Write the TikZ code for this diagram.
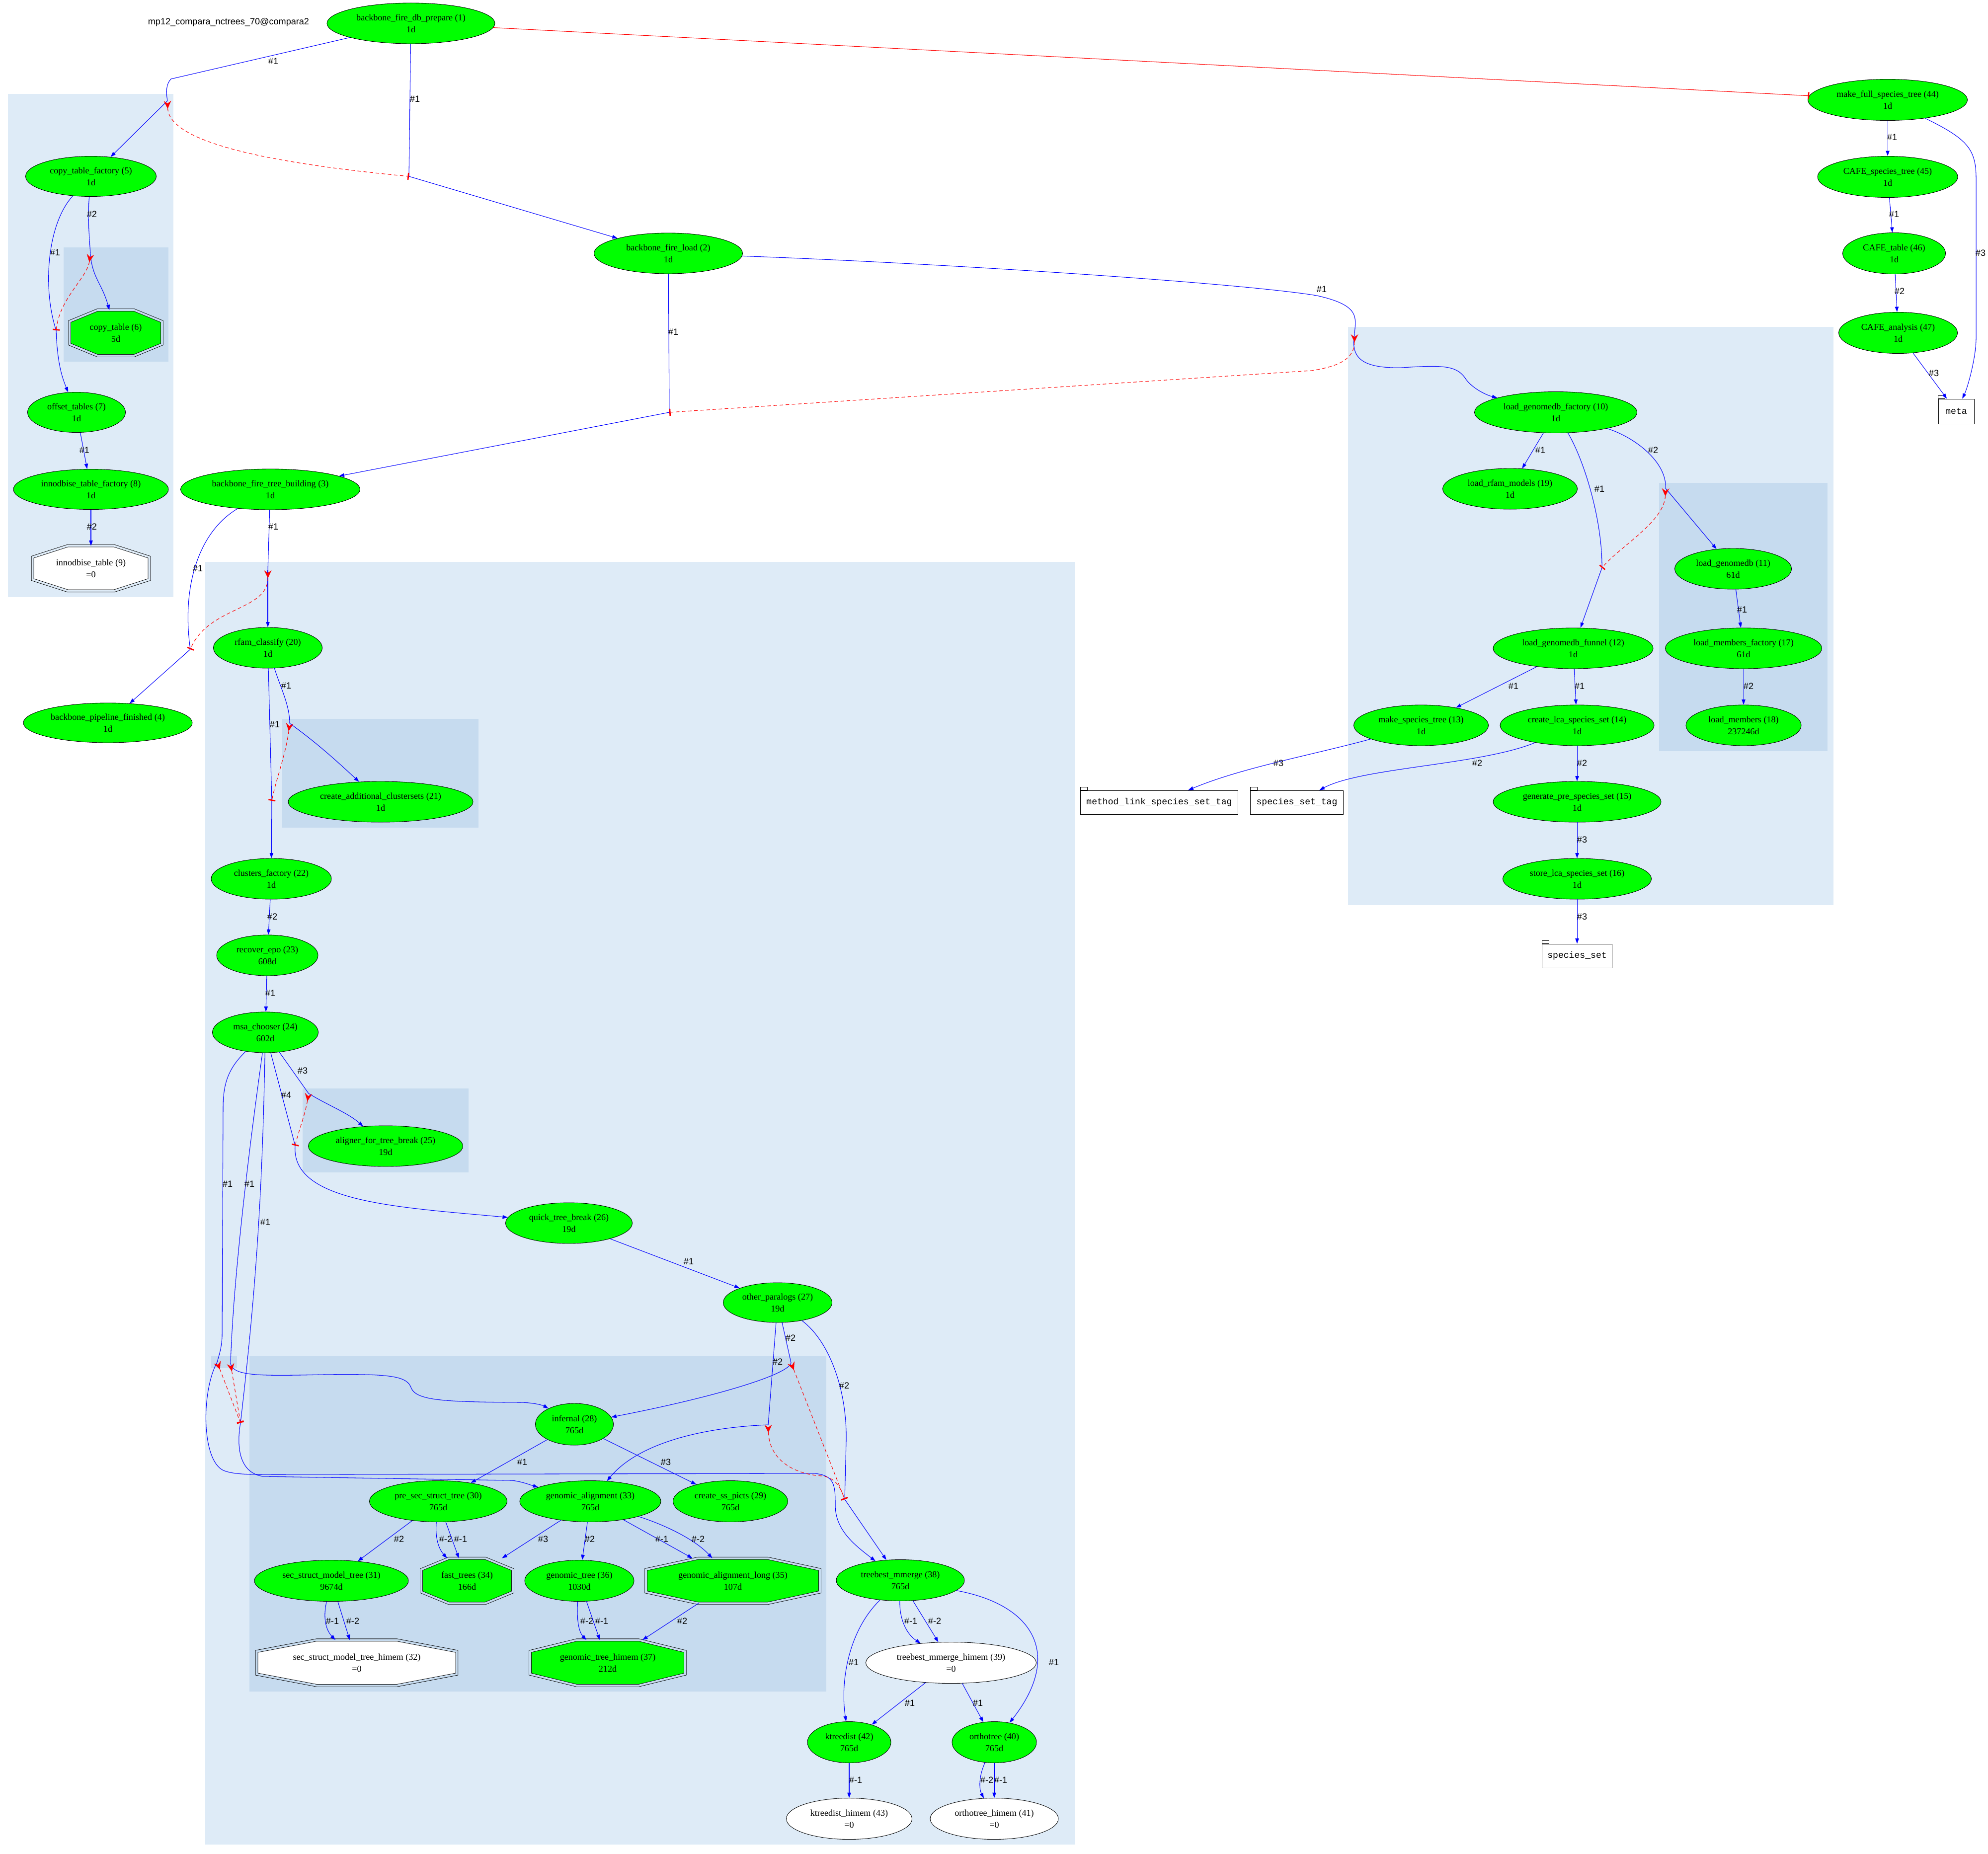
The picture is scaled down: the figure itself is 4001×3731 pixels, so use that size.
\documentclass[tikz,border=0pt]{standalone}
\usepackage{fontspec}
\setmainfont{Liberation Serif}
\setsansfont{Liberation Sans}
\setmonofont{Liberation Mono}
\usepackage{tikz}
\usetikzlibrary{arrows.meta}
\usetikzlibrary{shapes.geometric}
\usetikzlibrary{calc}
\definecolor{cluA}{HTML}{DEEBF7}
\definecolor{cluB}{HTML}{C6DBEF}
\definecolor{jobgreen}{HTML}{00FF00}
\pgfdeclarelayer{back}
\pgfsetlayers{back,main}
\tikzset{
    job/.style={
           ellipse,
           draw=black, line width=0.5pt,
           fill=jobgreen,
           inner sep=0pt,
           align=center,
           font=\fontsize{10.3}{13.5}\selectfont,
           },
    octo/.style={
           rectangle,
           inner sep=0pt,
           align=center,
           font=\fontsize{10.3}{13.5}\selectfont,
           },
    octline/.style={
           draw=black, line width=0.5pt,
           double=#1, double distance=2.2pt,
           },
    octline/.default=cluB,
    tbl/.style={
           rectangle,
           draw=black, line width=0.5pt,
           fill=white,
           inner sep=0pt,
           font=\ttfamily\fontsize{10.3}{12}\selectfont,
           },
    sz/.style 2 args={minimum width=#1*0.02cm, minimum height=#2*0.02cm},
    lbl/.style={text=black, font=\sffamily\fontsize{10.3}{12}\selectfont, inner sep=0pt},
    flow/.style={blue, line width=0.6pt},
    go/.style={flow, -{Triangle[length=6pt, width=4.2pt]}},
    sema/.style={red, line width=0.6pt, dash pattern=on 4pt off 3pt,
           {Stealth[reversed, length=9pt, width=8.5pt, inset=3pt]}-{Bar[width=8pt, line width=1.5pt]}},
    redtee/.style={red, line width=0.6pt, -{Bar[width=8pt, line width=1.5pt]}},
}
% octagon round a node of shape octo
\newcommand\octpath[1]{($(#1.north west)!0.3!(#1.north east)$) -- ($(#1.north west)!0.7!(#1.north east)$)
	-- ($(#1.north east)!0.25!(#1.south east)$) -- ($(#1.north east)!0.75!(#1.south east)$)
	-- ($(#1.south west)!0.7!(#1.south east)$) -- ($(#1.south west)!0.3!(#1.south east)$)
	-- ($(#1.north west)!0.75!(#1.south west)$) -- ($(#1.north west)!0.25!(#1.south west)$) -- cycle}

\begin{document}
\begin{tikzpicture}[x=0.02cm, y=-0.02cm]
	\useasboundingbox (0,0) rectangle (4001,3731);
	
	%clusters
	\begin{pgfonlayer}{back}
	\fill[cluA] (16,189) rectangle (349,1202);
	\fill[cluB] (128,498) rectangle (339,728);
	\fill[cluA] (413,1131) rectangle (2164,3713);
	\fill[cluB] (568,1447) rectangle (963,1666);
	\fill[cluB] (609,2191) rectangle (943,2360);
	\fill[cluB] (502,2730) rectangle (1663,3405);
	\fill[cluB] (425,2730) rectangle (477,2754);
	\fill[cluA] (2713,658) rectangle (3690,1822);
	\fill[cluB] (3339,972) rectangle (3678,1512);
	\end{pgfonlayer}
	
	\node[lbl] (head) at (460,45) {mp12\_compara\_nctrees\_70@compara2};
	
	%backbone
	\node[job, sz={338}{82}] (j1) at (827,47) {backbone\_fire\_db\_prepare (1)\\1d};
	\node[job, sz={299}{82}] (j2) at (1345,510) {backbone\_fire\_load (2)\\1d};
	\node[job, sz={361}{82}] (j3) at (544,985) {backbone\_fire\_tree\_building (3)\\1d};
	\node[job, sz={340}{80}] (j4) at (217,1455) {backbone\_pipeline\_finished (4)\\1d};
	
	%copy tables
	\node[job, sz={263}{81}] (j5) at (183,355) {copy\_table\_factory (5)\\1d};
	\node[octo, sz={185}{91}] (j6) at (233,670) {copy\_table (6)\\5d};
	\node[job, sz={197}{81}] (j7) at (154,830) {offset\_tables (7)\\1d};
	\node[job, sz={312}{81}] (j8) at (183,985) {innodbise\_table\_factory (8)\\1d};
	\node[octo, sz={234}{90}] (j9) at (183,1144) {innodbise\_table (9)\\=0};
	
	%genomedb
	\node[job, sz={327}{83}] (j10) at (3131,830) {load\_genomedb\_factory (10)\\1d};
	\node[job, sz={235}{82}] (j11) at (3488,1145) {load\_genomedb (11)\\61d};
	\node[job, sz={322}{82}] (j12) at (3166,1305) {load\_genomedb\_funnel (12)\\1d};
	\node[job, sz={271}{82}] (j13) at (2860,1460) {make\_species\_tree (13)\\1d};
	\node[job, sz={310}{82}] (j14) at (3174,1460) {create\_lca\_species\_set (14)\\1d};
	\node[job, sz={338}{82}] (j15) at (3174,1614) {generate\_pre\_species\_set (15)\\1d};
	\node[job, sz={299}{82}] (j16) at (3174,1769) {store\_lca\_species\_set (16)\\1d};
	\node[job, sz={315}{82}] (j17) at (3509,1305) {load\_members\_factory (17)\\61d};
	\node[job, sz={232}{82}] (j18) at (3509,1460) {load\_members (18)\\237246d};
	\node[job, sz={271}{82}] (j19) at (3039,984) {load\_rfam\_models (19)\\1d};
	
	%tree building
	\node[job, sz={219}{82}] (j20) at (539,1304) {rfam\_classify (20)\\1d};
	\node[job, sz={372}{82}] (j21) at (766,1614) {create\_additional\_clustersets (21)\\1d};
	\node[job, sz={242}{82}] (j22) at (546,1769) {clusters\_factory (22)\\1d};
	\node[job, sz={204}{82}] (j23) at (538,1923) {recover\_epo (23)\\608d};
	\node[job, sz={213}{82}] (j24) at (534,2078) {msa\_chooser (24)\\602d};
	\node[job, sz={311}{82}] (j25) at (776,2307) {aligner\_for\_tree\_break (25)\\19d};
	\node[job, sz={255}{82}] (j26) at (1145,2462) {quick\_tree\_break (26)\\19d};
	\node[job, sz={219}{80}] (j27) at (1565,2622) {other\_paralogs (27)\\19d};
	\node[job, sz={157}{84}] (j28) at (1156,2867) {infernal (28)\\765d};
	\node[job, sz={231}{83}] (j29) at (1470,3022) {create\_ss\_picts (29)\\765d};
	\node[job, sz={277}{83}] (j30) at (882,3022) {pre\_sec\_struct\_tree (30)\\765d};
	\node[job, sz={310}{83}] (j31) at (667,3182) {sec\_struct\_model\_tree (31)\\9674d};
	\node[octo, sz={402}{91}] (j32) at (718,3347) {sec\_struct\_model\_tree\_himem (32)\\=0};
	\node[job, sz={284}{83}] (j33) at (1188,3022) {genomic\_alignment (33)\\765d};
	\node[octo, sz={183}{90}] (j34) at (940,3182) {fast\_trees (34)\\166d};
	\node[octo, sz={349}{90}] (j35) at (1475,3182) {genomic\_alignment\_long (35)\\107d};
	\node[job, sz={220}{83}] (j36) at (1166,3182) {genomic\_tree (36)\\1030d};
	\node[octo, sz={311}{91}] (j37) at (1223,3347) {genomic\_tree\_himem (37)\\212d};
	\node[job, sz={258}{83}] (j38) at (1812,3181) {treebest\_mmerge (38)\\765d};
	\node[job, fill=white, sz={343}{83}] (j39) at (1914,3347) {treebest\_mmerge\_himem (39)\\=0};
	\node[job, sz={170}{83}] (j40) at (2001,3507) {orthotree (40)\\765d};
	\node[job, fill=white, sz={258}{83}] (j41) at (2001,3661) {orthotree\_himem (41)\\=0};
	\node[job, sz={168}{83}] (j42) at (1709,3507) {ktreedist (42)\\765d};
	\node[job, fill=white, sz={253}{83}] (j43) at (1709,3661) {ktreedist\_himem (43)\\=0};
	
	\begin{pgfonlayer}{back}
	\foreach \o/\f/\g in {j6/jobgreen/cluB, j9/white/cluA, j32/white/cluB,
			j34/jobgreen/cluB, j35/jobgreen/cluB, j37/jobgreen/cluB}
		\draw[octline=\g, fill=\f] \octpath{\o};
	\end{pgfonlayer}
	
	%species tree column
	\node[job, sz={321}{83}] (j44) at (3799,201) {make\_full\_species\_tree (44)\\1d};
	\node[job, sz={282}{83}] (j45) at (3799,356) {CAFE\_species\_tree (45)\\1d};
	\node[job, sz={207}{83}] (j46) at (3812,510) {CAFE\_table (46)\\1d};
	\node[job, sz={239}{83}] (j47) at (3820,670) {CAFE\_analysis (47)\\1d};
	
	%tables
	\node[tbl, sz={72}{50}] (tmeta) at (3937,828) {meta};
	\node[tbl, sz={317}{48}] (tmlss) at (2333,1615) {method\_link\_species\_set\_tag};
	\node[tbl, sz={187}{48}] (tsstag) at (2610,1615) {species\_set\_tag};
	\node[tbl, sz={141}{48}] (tss) at (3174,1924) {species\_set};
	\foreach \t in {tmeta,tmlss,tsstag,tss}
		\draw[line width=0.5pt, fill=white] (\t.north west) rectangle ++(14,-6);
	
	%fan and funnel points
	\coordinate (fanA) at (337,203);   \coordinate (teeA) at (823,355);
	\coordinate (fanB) at (182,512);   \coordinate (teeB) at (113,665);
	\coordinate (fanC) at (2726,673);  \coordinate (teeC) at (1347,830);
	\coordinate (fanD) at (539,1148);  \coordinate (teeD) at (383,1307);
	\coordinate (fanE) at (583,1456);  \coordinate (teeE) at (547,1612);
	\coordinate (fanF) at (621,2201);  \coordinate (teeF) at (594,2306);
	\coordinate (fanG) at (437,2742);  \coordinate (fanH) at (464,2745);
	\coordinate (teeG) at (484,2864);
	\coordinate (fanI) at (1546,2868); \coordinate (fanJ) at (1592,2743);
	\coordinate (teeK) at (1700,3018);
	\coordinate (fanL) at (3352,983);  \coordinate (teeL) at (3224,1143);
	
	%EDGES
	
	\draw[flow] (j1) -- (344,159) .. controls (334,170) and (334,185) .. (fanA) node[lbl] at (550,123) {\#1};
	\draw[go] (fanA) -- (j5);
	\draw[flow] (j1) -- (teeA) node[lbl] at (835,199) {\#1};
	\draw[go] (teeA) -- (j2);
	\draw[sema] (fanA) .. controls (340,290) and (560,330) .. (teeA);
	\draw[redtee] (j1) -- (j44);
	
	\draw[flow] (j5) .. controls (176,440) and (180,480) .. (fanB) node[lbl] at (185,431) {\#2};
	\draw[go] (fanB) .. controls (186,560) and (205,570) .. (j6);
	\draw[flow] (j5) .. controls (95,450) and (85,580) .. (teeB) node[lbl] at (111,508) {\#1};
	\draw[go] (teeB) .. controls (115,730) and (125,760) .. (j7);
	\draw[sema] (fanB) .. controls (175,560) and (120,600) .. (teeB);
	\draw[go] (j7) -- (j8) node[lbl] at (170,906) {\#1};
	\draw[go] (j8) -- (j9) node[lbl] at (185,1060) {\#2};
	
	\draw[flow] (j2) -- (teeC) node[lbl] at (1355,668) {\#1};
	\draw[go] (teeC) -- (j3);
	\draw[flow] (j2) .. controls (1900,530) and (2500,570) .. (2650,595) .. controls (2740,615) and (2728,640) .. (fanC) node[lbl] at (2660,582) {\#1};
	\draw[go] (fanC) .. controls (2718,720) and (2740,742) .. (2822,740) .. controls (2900,735) and (2930,735) .. (2948,760) .. controls (2960,780) and (2990,795) .. (j10);
	\draw[sema] (fanC) .. controls (2726,725) and (2690,738) .. (2640,746) -- (teeC);
	
	\draw[flow] (j3) -- (fanD) node[lbl] at (550,1060) {\#1};
	\draw[go] (fanD) -- (j20);
	\draw[flow] (j3) .. controls (400,1070) and (365,1180) .. (teeD) node[lbl] at (398,1144) {\#1};
	\draw[go] (teeD) -- (j4);
	\draw[sema] (fanD) .. controls (540,1230) and (420,1220) .. (teeD);
	
	\draw[flow] (j20) -- (teeE) node[lbl] at (553,1458) {\#1};
	\draw[go] (teeE) -- (j22);
	\draw[flow] (j20) .. controls (565,1385) and (583,1420) .. (fanE) node[lbl] at (576,1380) {\#1};
	\draw[go] (fanE) .. controls (630,1490) and (665,1520) .. (j21);
	\draw[sema] (fanE) .. controls (575,1520) and (555,1570) .. (teeE);
	\draw[go] (j22) -- (j23) node[lbl] at (548,1845) {\#2};
	\draw[go] (j23) -- (j24) node[lbl] at (544,1999) {\#1};
	
	\draw[flow] (j24) -- (fanF) node[lbl] at (609,2155) {\#3};
	\draw[go] (fanF) .. controls (660,2225) and (700,2240) .. (j25);
	\draw[flow] (j24) -- (teeF) node[lbl] at (576,2204) {\#4};
	\draw[go] (teeF) .. controls (585,2420) and (800,2430) .. (j26);
	\draw[sema] (fanF) .. controls (615,2240) and (600,2280) .. (teeF);
	\draw[go] (j26) -- (j27) node[lbl] at (1386,2539) {\#1};
	
	\draw[flow] (j24) .. controls (460,2150) and (449,2180) .. (449,2230) -- (447,2690) .. controls (446,2715) and (440,2730) .. (fanG) node[lbl] at (458,2383) {\#1};
	\draw[go] (fanG) .. controls (405,2800) and (405,2940) .. (450,2960) .. controls (470,2968) and (500,2968) .. (540,2968) -- (1640,2966) .. controls (1680,2970) and (1681,2990) .. (1681,3030) .. controls (1681,3080) and (1720,3110) .. (j38);
	\draw[flow] (j24) .. controls (510,2250) and (470,2550) .. (fanH) node[lbl] at (502,2383) {\#1};
	\draw[go] (fanH) .. controls (470,2770) and (520,2770) .. (650,2767) .. controls (790,2765) and (820,2770) .. (828,2795) .. controls (840,2820) and (900,2822) .. (1050,2823) .. controls (1080,2824) and (1095,2830) .. (j28);
	\draw[flow] (j24) .. controls (528,2400) and (515,2600) .. (teeG) node[lbl] at (534,2460) {\#1};
	\draw[go] (teeG) .. controls (476,2910) and (480,2965) .. (530,2972) -- (1030,2980) .. controls (1050,2982) and (1070,2990) .. (j33);
	\draw[sema] (fanG) -- (teeG);
	\draw[sema] (fanH) -- (teeG);
	
	\draw[flow] (j27) -- (fanI) node[lbl] at (1565,2741) {\#2};
	\draw[go] (fanI) .. controls (1400,2874) and (1280,2910) .. (j33);
	\draw[flow] (j27) -- (fanJ) node[lbl] at (1591,2693) {\#2};
	\draw[go] (fanJ) .. controls (1590,2765) and (1450,2810) .. (j28);
	\draw[flow] (j27) .. controls (1670,2700) and (1705,2800) .. (1703,2900) -- (teeK) node[lbl] at (1699,2789) {\#2};
	\draw[go] (teeK) -- (j38);
	\draw[sema] (fanI) .. controls (1548,2940) and (1600,2968) .. (1655,2971) .. controls (1680,2975) and (1690,2990) .. (teeK);
	\draw[sema] (fanJ) -- (teeK);
	
	\draw[go] (j28) -- (j30) node[lbl] at (1051,2943) {\#1};
	\draw[go] (j28) -- (j29) node[lbl] at (1340,2943) {\#3};
	\draw[go] (j30) -- (j31) node[lbl] at (803,3098) {\#2};
	\draw[go] (j30) .. controls (875,3100) and (885,3120) .. (j34) node[lbl] at (897,3098) {\#-2};
	\draw[go] (j30) -- (j34) node[lbl] at (927,3098) {\#-1};
	\draw[go] (j33) -- (j34) node[lbl] at (1093,3098) {\#3};
	\draw[go] (j33) -- (j36) node[lbl] at (1187,3098) {\#2};
	\draw[go] (j33) -- (j35) node[lbl] at (1332,3098) {\#-1};
	\draw[go] (j33) .. controls (1340,3070) and (1400,3100) .. (j35) node[lbl] at (1405,3098) {\#-2};
	\draw[go] (j31) .. controls (650,3255) and (655,3280) .. (j32) node[lbl] at (669,3263) {\#-1};
	\draw[go] (j31) -- (j32) node[lbl] at (710,3263) {\#-2};
	\draw[go] (j36) .. controls (1160,3260) and (1165,3285) .. (j37) node[lbl] at (1181,3263) {\#-2};
	\draw[go] (j36) -- (j37) node[lbl] at (1211,3263) {\#-1};
	\draw[go] (j35) -- (j37) node[lbl] at (1373,3263) {\#2};
	
	\draw[go] (j38) .. controls (1810,3260) and (1825,3290) .. (j39) node[lbl] at (1833,3263) {\#-1};
	\draw[go] (j38) -- (j39) node[lbl] at (1881,3263) {\#-2};
	\draw[go] (j38) .. controls (1710,3280) and (1690,3380) .. (j42) node[lbl] at (1718,3346) {\#1};
	\draw[go] (j38) .. controls (2080,3230) and (2140,3330) .. (j40) node[lbl] at (2121,3346) {\#1};
	\draw[go] (j39) -- (j42) node[lbl] at (1831,3428) {\#1};
	\draw[go] (j39) -- (j40) node[lbl] at (1968,3428) {\#1};
	\draw[go] (j42) -- (j43) node[lbl] at (1722,3583) {\#-1};
	\draw[go] (j40) .. controls (1970,3575) and (1970,3600) .. (j41) node[lbl] at (1986,3583) {\#-2};
	\draw[go] (j40) -- (j41) node[lbl] at (2014,3583) {\#-1};
	
	\draw[go] (j44) -- (j45) node[lbl] at (3808,276) {\#1};
	\draw[go] (j45) -- (j46) node[lbl] at (3812,431) {\#1};
	\draw[go] (j46) -- (j47) node[lbl] at (3823,586) {\#2};
	\draw[go] (j47) -- (tmeta) node[lbl] at (3892,751) {\#3};
	\draw[go] (j44) .. controls (3960,280) and (3977,300) .. (3977,360) -- (3977,680) .. controls (3977,720) and (3960,780) .. (tmeta) node[lbl] at (3986,509) {\#3};
	
	\draw[go] (j10) -- (j19) node[lbl] at (3100,906) {\#1};
	\draw[flow] (j10) .. controls (3190,930) and (3225,1050) .. (teeL) node[lbl] at (3219,984) {\#1};
	\draw[go] (teeL) -- (j12);
	\draw[flow] (j10) .. controls (3290,880) and (3355,930) .. (fanL) node[lbl] at (3327,906) {\#2};
	\draw[go] (fanL) -- (j11);
	\draw[sema] (fanL) .. controls (3350,1050) and (3260,1100) .. (teeL);
	\draw[go] (j11) -- (j17) node[lbl] at (3506,1227) {\#1};
	\draw[go] (j17) -- (j18) node[lbl] at (3519,1381) {\#2};
	\draw[go] (j12) -- (j13) node[lbl] at (3046,1381) {\#1};
	\draw[go] (j12) -- (j14) node[lbl] at (3179,1381) {\#1};
	\draw[go] (j13) .. controls (2640,1520) and (2500,1545) .. (tmlss) node[lbl] at (2573,1536) {\#3};
	\draw[go] (j14) .. controls (2980,1540) and (2740,1545) .. (tsstag) node[lbl] at (2973,1536) {\#2};
	\draw[go] (j14) -- (j15) node[lbl] at (3184,1536) {\#2};
	\draw[go] (j15) -- (j16) node[lbl] at (3184,1690) {\#3};
	\draw[go] (j16) -- (tss) node[lbl] at (3184,1845) {\#3};
	
\end{tikzpicture}
\end{document}
